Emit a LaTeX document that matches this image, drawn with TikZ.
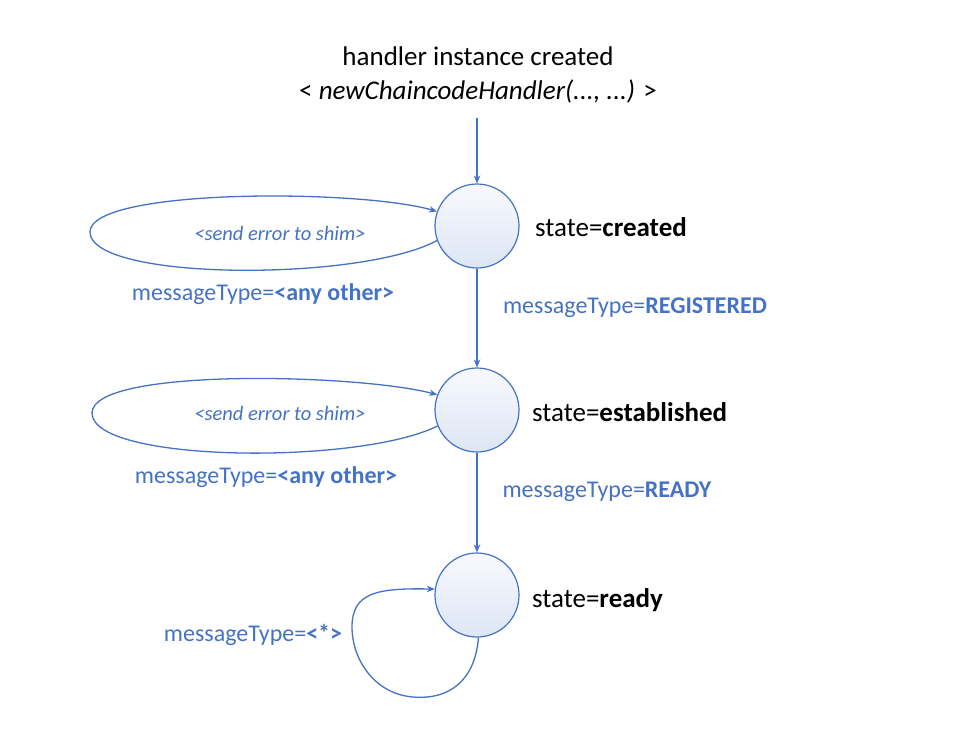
\documentclass[tikz,border=0pt]{standalone}
\usepackage{fontspec}
\setmainfont{Carlito}
\usetikzlibrary{arrows.meta}
\definecolor{lineblue}{HTML}{4472C4}
\definecolor{txtblue}{HTML}{4472C4}
\definecolor{filltop}{HTML}{F8F9FD}
\definecolor{fillbot}{HTML}{DDE6F5}
\tikzset{
  statecircle/.style={circle, draw=lineblue, line width=1.2pt, minimum size=84pt, inner sep=0pt, top color=filltop, bottom color=fillbot},
  conn/.style={draw=lineblue, line width=1.3pt, -{Stealth[length=8pt,width=6.5pt]}},
  statelbl/.style={anchor=west, font=\fontsize{27}{32}\selectfont, text=black, inner sep=0pt},
  msglbl/.style={font=\fontsize{24}{28}\selectfont, text=txtblue, inner sep=0pt},
  actlbl/.style={font=\fontsize{20.5}{24}\selectfont\itshape, text=txtblue, inner sep=0pt},
}
\begin{document}
\begin{tikzpicture}[x=1pt,y=-1pt]
\useasboundingbox (0,0) rectangle (957,742);
\node[font=\fontsize{27}{34}\selectfont, align=center, inner sep=0pt] (start) at (478,75) {handler instance created\\ < \textit{newChaincodeHandler(..., ...)} >};
\coordinate (startpt) at (477,118);
\node[statecircle] (s1) at (477,226) {};
\node[statecircle] (s2) at (477,410) {};
\node[statecircle] (s3) at (477,595) {};
\node[statelbl] (l1) at (535,227) {state=\textbf{created}};
\node[statelbl] (l2) at (532,412) {state=\textbf{established}};
\node[statelbl] (l3) at (532,600) {state=\textbf{ready}};
\draw[conn] (startpt) -- (s1);
\draw[conn] (s1) -- (s2);
\draw[conn] (s2) -- (s3);
\node[msglbl] (m12) at (635,308) {messageType=\textbf{REGISTERED}};
\node[msglbl] (m23) at (607,492) {messageType=\textbf{READY}};
% loop 1
\draw[conn] (s1.200) .. controls (360,282) and (90,281) .. (90,232)
   .. controls (90,188) and (360,189) .. (s1.160);
\node[actlbl] (a1) at (280,233) {<send error to shim>};
\node[msglbl] (m1) at (263,294) {messageType=\textbf{<any other>}};
% loop 2
\draw[conn] (s2.202) .. controls (360,465) and (92,463) .. (92,413)
   .. controls (92,367) and (360,374) .. (s2.159);
\node[actlbl] (a2) at (280,413) {<send error to shim>};
\node[msglbl] (m2) at (266,477) {messageType=\textbf{<any other>}};
% loop 3
\draw[conn] (s3.272) .. controls (475,680) and (450,700) .. (413,697)
   .. controls (375,694) and (352,660) .. (352,627)
   .. controls (352,592) and (378,588) .. (s3.172);
\node[msglbl] (m3) at (253,635) {messageType=\textbf{<*>}};
\end{tikzpicture}
\end{document}
